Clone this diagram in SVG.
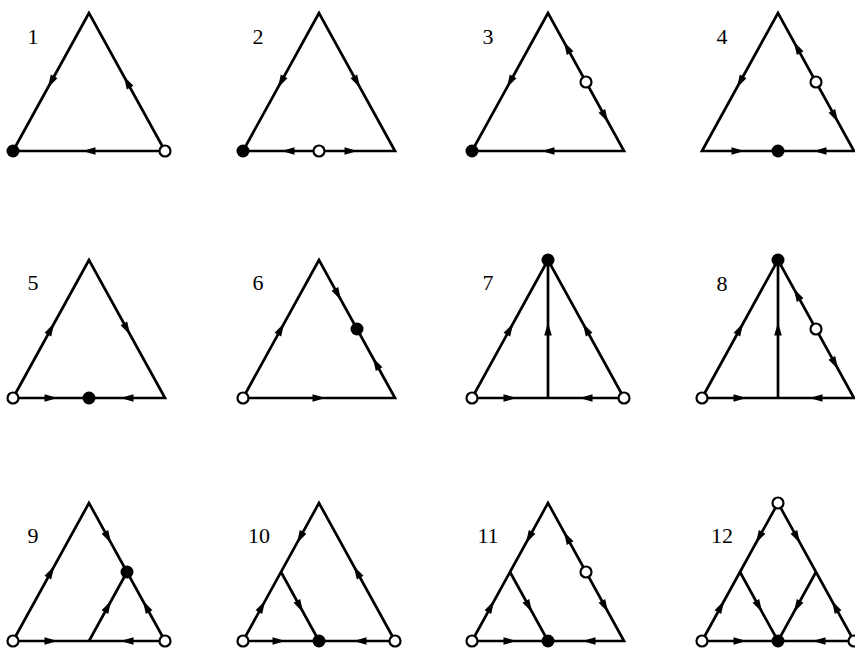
<svg xmlns="http://www.w3.org/2000/svg" width="855" height="648" viewBox="0 0 855 648">
<style>
.e{fill:none;stroke:#000;stroke-width:2.7;stroke-linejoin:miter;stroke-miterlimit:10}
.s{fill:#000}
.o{fill:#fff;stroke:#000;stroke-width:2.2}
.t{font-family:"Liberation Serif","Times New Roman",serif;font-size:22px;fill:#000;text-anchor:middle}
</style>
<defs>
<path id="ah" d="M6.5,0 L-6.5,-3.8 L-6.5,3.8 Z" fill="#000"/>
<path id="tri" d="M76,0 L0,138 L152,138 Z"/>
</defs>
<rect width="855" height="648" fill="#fff"/>

<g id="label-group">
<text class="t" x="33" y="44">1</text>
<text class="t" x="258" y="44">2</text>
<text class="t" x="488" y="44">3</text>
<text class="t" x="722" y="44">4</text>
<text class="t" x="33" y="290">5</text>
<text class="t" x="258" y="290">6</text>
<text class="t" x="488" y="290">7</text>
<text class="t" x="722" y="291">8</text>
<text class="t" x="33" y="543">9</text>
<text class="t" x="259" y="543">10</text>
<text class="t" x="488" y="543">11</text>
<text class="t" x="722" y="543">12</text>
</g>

<g id="panel1" transform="translate(13,13)">
<g class="connectors"><use href="#tri" class="e"/>
<use href="#ah" transform="translate(38,69) rotate(118.8)"/>
<use href="#ah" transform="translate(114,69) rotate(-118.8)"/>
<use href="#ah" transform="translate(76,138) rotate(180)"/></g>
<g id="p1-nodes"><circle class="s" cx="0" cy="138" r="6.5"/><circle class="o" cx="152" cy="138" r="5.5"/></g>
</g>

<g id="panel2" transform="translate(243,13)">
<g class="connectors"><use href="#tri" class="e"/>
<use href="#ah" transform="translate(38,69) rotate(118.8)"/>
<use href="#ah" transform="translate(114,69) rotate(61.2)"/>
<use href="#ah" transform="translate(45,138) rotate(180)"/>
<use href="#ah" transform="translate(108,138) rotate(0)"/></g>
<g id="p2-nodes"><circle class="s" cx="0" cy="138" r="6.5"/><circle class="o" cx="76" cy="138" r="5.5"/></g>
</g>

<g id="panel3" transform="translate(472,13)">
<g class="connectors"><use href="#tri" class="e"/>
<use href="#ah" transform="translate(38,69) rotate(118.8)"/>
<use href="#ah" transform="translate(95,34.5) rotate(-118.8)"/>
<use href="#ah" transform="translate(133,103.5) rotate(61.2)"/>
<use href="#ah" transform="translate(76,138) rotate(180)"/></g>
<g id="p3-nodes"><circle class="s" cx="0" cy="138" r="6.5"/><circle class="o" cx="114" cy="69" r="5.5"/></g>
</g>

<g id="panel4" transform="translate(702,13)">
<g class="connectors"><use href="#tri" class="e"/>
<use href="#ah" transform="translate(38,69) rotate(118.8)"/>
<use href="#ah" transform="translate(95,34.5) rotate(-118.8)"/>
<use href="#ah" transform="translate(133,103.5) rotate(61.2)"/>
<use href="#ah" transform="translate(36,138) rotate(0)"/>
<use href="#ah" transform="translate(118,138) rotate(180)"/></g>
<g id="p4-nodes"><circle class="o" cx="114" cy="69" r="5.5"/><circle class="s" cx="76" cy="138" r="6.5"/></g>
</g>

<g id="panel5" transform="translate(13,260)">
<g class="connectors"><use href="#tri" class="e"/>
<use href="#ah" transform="translate(38,69) rotate(-61.2)"/>
<use href="#ah" transform="translate(114,69) rotate(61.2)"/>
<use href="#ah" transform="translate(38,138) rotate(0)"/>
<use href="#ah" transform="translate(114,138) rotate(180)"/></g>
<g id="p5-nodes"><circle class="o" cx="0" cy="138" r="5.5"/><circle class="s" cx="76" cy="138" r="6.5"/></g>
</g>

<g id="panel6" transform="translate(243,260)">
<g class="connectors"><use href="#tri" class="e"/>
<use href="#ah" transform="translate(38,69) rotate(-61.2)"/>
<use href="#ah" transform="translate(95,34.5) rotate(61.2)"/>
<use href="#ah" transform="translate(133,103.5) rotate(-118.8)"/>
<use href="#ah" transform="translate(76,138) rotate(0)"/></g>
<g id="p6-nodes"><circle class="o" cx="0" cy="138" r="5.5"/><circle class="s" cx="114" cy="69" r="6.5"/></g>
</g>

<g id="panel7" transform="translate(472,260)">
<g class="connectors"><use href="#tri" class="e"/><path class="e" d="M76,0 L76,138"/>
<use href="#ah" transform="translate(38,69) rotate(-61.2)"/>
<use href="#ah" transform="translate(76,69) rotate(-90)"/>
<use href="#ah" transform="translate(114,69) rotate(-118.8)"/>
<use href="#ah" transform="translate(38,138) rotate(0)"/>
<use href="#ah" transform="translate(114,138) rotate(180)"/></g>
<g id="p7-nodes"><circle class="s" cx="76" cy="0" r="6.5"/><circle class="o" cx="0" cy="138" r="5.5"/><circle class="o" cx="152" cy="138" r="5.5"/></g>
</g>

<g id="panel8" transform="translate(702,260)">
<g class="connectors"><use href="#tri" class="e"/><path class="e" d="M76,0 L76,138"/>
<use href="#ah" transform="translate(38,69) rotate(-61.2)"/>
<use href="#ah" transform="translate(76,69) rotate(-90)"/>
<use href="#ah" transform="translate(95,34.5) rotate(-118.8)"/>
<use href="#ah" transform="translate(133,103.5) rotate(61.2)"/>
<use href="#ah" transform="translate(38,138) rotate(0)"/>
<use href="#ah" transform="translate(114,138) rotate(180)"/></g>
<g id="p8-nodes"><circle class="s" cx="76" cy="0" r="6.5"/><circle class="o" cx="0" cy="138" r="5.5"/><circle class="o" cx="114" cy="69" r="5.5"/></g>
</g>

<g id="panel9" transform="translate(13,503)">
<g class="connectors"><use href="#tri" class="e"/><path class="e" d="M114,69 L76,138"/>
<use href="#ah" transform="translate(38,69) rotate(-61.2)"/>
<use href="#ah" transform="translate(95,34.5) rotate(61.2)"/>
<use href="#ah" transform="translate(133,103.5) rotate(-118.8)"/>
<use href="#ah" transform="translate(95,103.5) rotate(-61.2)"/>
<use href="#ah" transform="translate(38,138) rotate(0)"/>
<use href="#ah" transform="translate(114,138) rotate(180)"/></g>
<g id="p9-nodes"><circle class="o" cx="0" cy="138" r="5.5"/><circle class="o" cx="152" cy="138" r="5.5"/><circle class="s" cx="114" cy="69" r="6.5"/></g>
</g>

<g id="panel10" transform="translate(243,503)">
<g class="connectors"><use href="#tri" class="e"/><path class="e" d="M38,69 L76,138"/>
<use href="#ah" transform="translate(57,34.5) rotate(118.8)"/>
<use href="#ah" transform="translate(19,103.5) rotate(-61.2)"/>
<use href="#ah" transform="translate(57,103.5) rotate(61.2)"/>
<use href="#ah" transform="translate(114,69) rotate(-118.8)"/>
<use href="#ah" transform="translate(36,138) rotate(0)"/>
<use href="#ah" transform="translate(117,138) rotate(180)"/></g>
<g id="p10-nodes"><circle class="o" cx="0" cy="138" r="5.5"/><circle class="o" cx="152" cy="138" r="5.5"/><circle class="s" cx="76" cy="138" r="6.5"/></g>
</g>

<g id="panel11" transform="translate(472,503)">
<g class="connectors"><use href="#tri" class="e"/><path class="e" d="M38,69 L76,138"/>
<use href="#ah" transform="translate(57,34.5) rotate(118.8)"/>
<use href="#ah" transform="translate(19,103.5) rotate(-61.2)"/>
<use href="#ah" transform="translate(57,103.5) rotate(61.2)"/>
<use href="#ah" transform="translate(95,34.5) rotate(-118.8)"/>
<use href="#ah" transform="translate(133,103.5) rotate(61.2)"/>
<use href="#ah" transform="translate(38,138) rotate(0)"/>
<use href="#ah" transform="translate(117,138) rotate(180)"/></g>
<g id="p11-nodes"><circle class="o" cx="0" cy="138" r="5.5"/><circle class="o" cx="114" cy="69" r="5.5"/><circle class="s" cx="76" cy="138" r="6.5"/></g>
</g>

<g id="panel12" transform="translate(702,503)">
<g class="connectors"><use href="#tri" class="e"/><path class="e" d="M38,69 L76,138 L114,69"/>
<use href="#ah" transform="translate(57,34.5) rotate(118.8)"/>
<use href="#ah" transform="translate(95,34.5) rotate(61.2)"/>
<use href="#ah" transform="translate(19,103.5) rotate(-61.2)"/>
<use href="#ah" transform="translate(133,103.5) rotate(-118.8)"/>
<use href="#ah" transform="translate(57,103.5) rotate(61.2)"/>
<use href="#ah" transform="translate(95,103.5) rotate(118.8)"/>
<use href="#ah" transform="translate(38,138) rotate(0)"/>
<use href="#ah" transform="translate(117,138) rotate(180)"/></g>
<g id="p12-nodes"><circle class="o" cx="76" cy="0" r="5.5"/><circle class="o" cx="0" cy="138" r="5.5"/><circle class="o" cx="152" cy="138" r="5.5"/><circle class="s" cx="76" cy="138" r="6.5"/></g>
</g>
</svg>
